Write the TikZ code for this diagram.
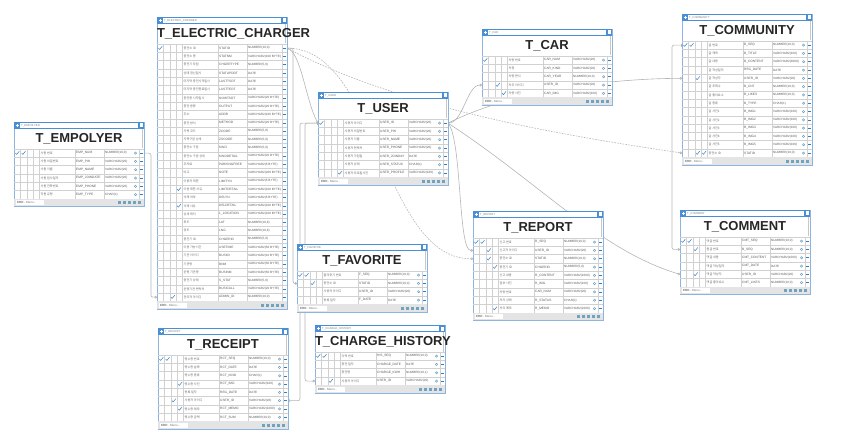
\documentclass[tikz,border=0pt]{standalone}
\usepackage{fontspec}
\setmainfont{Liberation Sans}
\newfontfamily\kr{Noto Sans CJK KR}
\usetikzlibrary{arrows.meta,backgrounds}

\definecolor{frameblue}{HTML}{8DB4DF}
\definecolor{barblue}{HTML}{4A8FD6}
\definecolor{chkblue}{HTML}{2F7FC8}
\definecolor{gearblue}{HTML}{6FA3BE}
\definecolor{linegray}{HTML}{B4B4B4}
\definecolor{footgray}{HTML}{E4E4E4}

\tikzset{
    tabbox/.style={draw=frameblue, fill=white, line width=0.7pt, minimum width=130pt, inner sep=0pt, outer sep=0pt, anchor=north west},
    gridline/.style={draw=black!18, line width=0.3pt},
    titletext/.style={font=\fontsize{13}{15}\selectfont\bfseries, text=black!85, text width=130pt, align=center, inner sep=0pt},
    bartext/.style={font=\fontsize{2.8}{3}\selectfont, text=black!50, anchor=west, inner sep=0pt},
    lgtext/.style={font=\kr\fontsize{3.1}{4}\selectfont, text=black!60, anchor=west, inner sep=0pt},
    phtext/.style={font=\fontsize{3.2}{4}\selectfont, text=black!65, anchor=west, inner sep=0pt},
    tytext/.style={font=\fontsize{3.1}{4}\selectfont, text=black!65, anchor=west, inner sep=0pt},
    foottext/.style={font=\fontsize{3}{4}\selectfont, text=black!55, anchor=west, inner sep=0pt},
    chk/.style={draw=chkblue, line width=0.5pt, line cap=round, line join=round},
    rel/.style={draw=linegray, line width=0.6pt, rounded corners=2pt, {Bar[width=3pt,length=0.6pt]}-{Circle[open,length=2.6pt,width=2.6pt]}},
    reldash/.style={rel, dash pattern=on 1.6pt off 1.2pt}
}

% #1 gear column on/off, #2 name, #3 top left, #4 title, #5 number of rows, #6 rows
\newcommand{\ertable}[6][1]{%
    \begin{scope}[shift={#3}]
        \pgfmathsetmacro\tabh{27+#5*8.3+8}
        \node[tabbox, minimum height=\tabh pt] (#2) at (0,0) {};
        \fill[barblue] (0,0) rectangle (130,7);
        \fill[white] (6,1.3) rectangle (124,5.7);
        \fill[white] (125.5,1.5) rectangle (128.5,5.5);
        \draw[white, line width=0.6pt] (1.5,3.5) -- (4.5,3.5) (3,2) -- (3,5);
        \node[bartext] at (7,3.5) {#4};
        \fill[black!22] (127.8,7) rectangle (129.3,26.5);
        \node[titletext] (#2-title) at (65,17) {#4};
        \foreach \r in {0,...,#5}
            \draw[gridline] (0,{27+\r*8.3}) -- (130,{27+\r*8.3});
        \foreach \cx in {6.5,13,19,25,61,90,125}
            \draw[gridline] (\cx,27) -- (\cx,{27+#5*8.3});
        \foreach \lg/\ph/\ty/\ma/\mb [count=\i] in {#6} {
            \pgfmathsetmacro\yy{27+(\i-0.5)*8.3}
            \node[lgtext] at (26.5,\yy) {\lg};
            \node[phtext] at (62,\yy) {\ph};
            \node[tytext] at (91,\yy) {\ty};
            \draw[chk] (126.3,\yy) -- (128.7,\yy);
            \ifnum#1=1 \fill[gearblue] (121.5,\yy) circle[radius=1.5pt]; \fill[white] (121.5,\yy) circle[radius=0.5pt]; \fi
            \ifnum\ma>0 \pgfmathsetmacro\cx{\ma*6.25-3}
                \draw[chk] (\cx-1.8,\yy) -- (\cx-0.6,\yy+1.3) -- (\cx+1.9,\yy-1.8); \fi
            \ifnum\mb>0 \pgfmathsetmacro\cx{\mb*6.25-3}
                \draw[chk] (\cx-1.8,\yy) -- (\cx-0.6,\yy+1.3) -- (\cx+1.9,\yy-1.8); \fi
            \coordinate (#2-\i-w) at (0,\yy);
            \coordinate (#2-\i-e) at (130,\yy);
        }
        % footer
        \fill[footgray] (0.4,{27+#5*8.3}) rectangle (129.6,\tabh-0.4);
        \fill[white] (2,{27+#5*8.3+1.5}) rectangle (30,\tabh-1.5);
        \node[foottext] at (3,\tabh-4) {\textbf{ERD} - Menu -};
        \foreach \ix in {104,109,114,119,124}
            \fill[gearblue] (\ix,\tabh-5.5) rectangle ++(2.6,3);
    \end{scope}}

\begin{document}
\begin{tikzpicture}[x=1pt, y=-1pt]
    \useasboundingbox (0,0) rectangle (845,443);

    \ertable{emp}{(14,122)}{T\_EMPOLYER}{6}{
        사원 번호/EMP\_NUM/{NUMBER(10,0)}/1/2,
        사원 비밀번호/EMP\_PW/VARCHAR2(20)/0/0,
        사원 이름/EMP\_NAME/VARCHAR2(20)/0/0,
        사원 입사일자/EMP\_JOINDATE/VARCHAR2(20)/0/0,
        사원 전화번호/EMP\_PHONE/VARCHAR2(20)/0/0,
        직원 유형/EMP\_TYPE/CHAR(1)/0/0}

    \ertable[0]{chg}{(157,17)}{T\_ELECTRIC\_CHARGER}{31}{
        충전소 ID/STATID/{NUMBER(10,0)}/1/0,
        충전소 명/STATNM/VARCHAR2(100 BYTE)/0/0,
        충전기 타입/CHGERTYPE/{NUMBER(5,0)}/0/0,
        상태 갱신일시/STATUPDDT/DATE/0/0,
        마지막 충전시작일시/LASTTSDT/DATE/0/0,
        마지막 충전종료일시/LASTTEDT/DATE/0/0,
        충전중 시작일시/NOWTSDT/VARCHAR2(20 BYTE)/0/0,
        충전 용량/OUTPUT/VARCHAR2(20 BYTE)/0/0,
        주소/ADDR/VARCHAR2(100 BYTE)/0/0,
        충전 방식/METHOD/VARCHAR2(20 BYTE)/0/0,
        지역 코드/ZCODE/{NUMBER(5,0)}/0/0,
        지역구분 상세/ZSCODE/{NUMBER(5,0)}/0/0,
        충전소 구분/KIND/{NUMBER(5,0)}/0/0,
        충전소 구분 상세/KINDDETAIL/VARCHAR2(20 BYTE)/0/0,
        주차료/PARKINGFREE/VARCHAR2(5 BYTE)/0/0,
        비고/NOTE/VARCHAR2(200 BYTE)/0/0,
        이용자 제한/LIMITYN/VARCHAR2(5 BYTE)/0/0,
        이용 제한 사유/LIMITDETAIL/VARCHAR2(100 BYTE)/4/0,
        삭제 여부/DELYN/VARCHAR2(5 BYTE)/0/0,
        삭제 사유/DELDETAIL/VARCHAR2(100 BYTE)/4/0,
        상세 위치/L\_LOCATION/VARCHAR2(100 BYTE)/0/0,
        위도/LAT/{NUMBER(10,6)}/0/0,
        경도/LNG/{NUMBER(10,6)}/0/0,
        충전기 ID/CHGERID/{NUMBER(5,0)}/0/0,
        이용 가능시간/USETIME/VARCHAR2(50 BYTE)/0/0,
        기관 아이디/BUSIID/VARCHAR2(10 BYTE)/0/0,
        기관명/BNM/VARCHAR2(50 BYTE)/0/0,
        운영 기관명/BUSINM/VARCHAR2(50 BYTE)/0/0,
        충전기 상태/S\_STAT/{NUMBER(5,0)}/0/0,
        운영기관 연락처/BUSICALL/VARCHAR2(20 BYTE)/0/0,
        관리자 아이디/ADMIN\_ID/{NUMBER(10,0)}/3/0}

    \ertable{user}{(318,92)}{T\_USER}{7}{
        사용자 아이디/USER\_ID/VARCHAR2(20)/1/0,
        사용자 비밀번호/USER\_PW/VARCHAR2(20)/0/0,
        사용자 이름/USER\_NAME/VARCHAR2(20)/0/0,
        사용자 연락처/USER\_PHONE/VARCHAR2(20)/0/0,
        사용자 가입일/USER\_JOINDAY/DATE/0/0,
        사용자 상태/USER\_STATUS/CHAR(1)/0/0,
        사용자 프로필사진/USER\_PROFILE/VARCHAR2(100)/4/0}

    \ertable{car}{(482,29)}{T\_CAR}{5}{
        차량 번호/CAR\_NUM/VARCHAR2(20)/1/0,
        차종/CAR\_KIND/VARCHAR2(20)/0/0,
        차량 연식/CAR\_YEAR/{NUMBER(10,0)}/0/0,
        차주 아이디/USER\_ID/VARCHAR2(20)/3/0,
        차량 사진/CAR\_IMG/VARCHAR2(100)/4/0}

    \ertable{com}{(682,14)}{T\_COMMUNITY}{14}{
        글 번호/B\_SEQ/{NUMBER(10,0)}/1/2,
        글 제목/B\_TITLE/VARCHAR2(100)/0/0,
        글 내용/B\_CONTENT/VARCHAR2(4000)/0/0,
        글 작성일자/REG\_DATE/DATE/0/0,
        글 작성자/USER\_ID/VARCHAR2(20)/3/0,
        글 조회수/B\_CNT/{NUMBER(10,0)}/0/0,
        글 좋아요수/B\_LIKES/{NUMBER(10,0)}/0/0,
        글 종류/B\_TYPE/CHAR(1)/0/0,
        글 사진1/B\_IMG1/VARCHAR2(100)/0/0,
        글 사진2/B\_IMG2/VARCHAR2(100)/0/0,
        글 사진3/B\_IMG3/VARCHAR2(100)/0/0,
        글 사진4/B\_IMG4/VARCHAR2(100)/0/0,
        글 사진5/B\_IMG5/VARCHAR2(100)/0/0,
        충전소 ID/STATID/{NUMBER(10,0)}/3/4}

    \ertable{rep}{(473,211)}{T\_REPORT}{9}{
        신고 번호/R\_SEQ/{NUMBER(10,0)}/1/2,
        신고자 아이디/USER\_ID/VARCHAR2(20)/3/0,
        충전소 ID/STATID/{NUMBER(10,0)}/3/0,
        충전기 ID/CHGERID/{NUMBER(5,0)}/4/0,
        신고 내용/R\_CONTENT/VARCHAR2(1000)/0/0,
        첨부 사진/R\_IMG/VARCHAR2(100)/0/0,
        차량 번호/CAR\_NUM/VARCHAR2(20)/0/0,
        처리 상태/R\_STATUS/CHAR(1)/0/0,
        처리 메모/R\_MEMO/VARCHAR2(1000)/4/0}

    \ertable{cmt}{(680,210)}{T\_COMMENT}{6}{
        댓글 번호/CMT\_SEQ/{NUMBER(10,0)}/1/2,
        원글 번호/B\_SEQ/{NUMBER(10,0)}/3/0,
        댓글 내용/CMT\_CONTENT/VARCHAR2(1000)/0/0,
        댓글 작성일자/CMT\_DATE/DATE/0/0,
        댓글 작성자/USER\_ID/VARCHAR2(20)/3/0,
        댓글 좋아요수/CMT\_LIKES/{NUMBER(10,0)}/0/0}

    \ertable{fav}{(297,244)}{T\_FAVORITE}{4}{
        즐겨찾기 번호/F\_SEQ/{NUMBER(10,0)}/1/2,
        충전소 ID/STATID/{NUMBER(10,0)}/3/0,
        사용자 아이디/USER\_ID/VARCHAR2(20)/0/0,
        등록 일자/F\_DATE/DATE/0/0}

    \ertable{rct}{(158,328)}{T\_RECEIPT}{8}{
        영수증 번호/RCT\_SEQ/{NUMBER(10,0)}/1/2,
        영수증 날짜/RCT\_DATE/DATE/0/0,
        영수증 종류/RCT\_KIND/CHAR(1)/0/0,
        영수증 사진/RCT\_IMG/VARCHAR2(100)/4/0,
        등록 일자/REG\_DATE/DATE/0/0,
        사용자 아이디/USER\_ID/VARCHAR2(20)/3/0,
        영수증 메모/RCT\_MEMO/VARCHAR2(1000)/4/0,
        영수증 금액/RCT\_SUM/{NUMBER(10,0)}/0/0}

    \ertable{his}{(315,325)}{T\_CHARGE\_HISTORY}{4}{
        이력 번호/HIS\_SEQ/{NUMBER(10,0)}/1/2,
        충전 일자/CHARGE\_DATE/DATE/0/0,
        충전량/CHARGE\_KWH/{NUMBER(10,1)}/0/0,
        사용자 아이디/USER\_ID/VARCHAR2(20)/3/0}

    % relations
    \begin{pgfonlayer}{background}
        \draw[rel] (emp-1-e) -- ++(7,0) |- (chg-31-w);
        \draw[rel] (chg-1-e) .. controls +(14,4) and +(-12,-22) .. (user-1-w);
        \draw[rel] (chg-1-e) -- ++(6,0) |- (fav-2-w);
        \draw[reldash] (chg-1-e) .. controls +(90,0) and +(-90,0) .. (rep-3-w);
        \draw[reldash] (chg-1-e) .. controls +(113,60) and +(-122,-18) .. (com-14-w);
        \draw[rel] (user-1-w) -- ++(-18,0) |- (rct-6-e);
        \draw[rel] (user-1-w) -- ++(-13,0) |- (his-4-w);
        \draw[rel] (user-1-e) .. controls +(15,0) and +(-15,0) .. (car-4-w);
        \draw[rel] (user-1-e) .. controls +(14,17) and +(-15,0) .. (rep-2-w);
        \draw[rel] (user-1-e) .. controls +(80,-40) and +(-40,0) .. (com-5-w);
        \draw[rel] (user-1-e) .. controls +(92,60) and +(-80,-24) .. (cmt-5-w);
        \draw[rel] (com-1-w) -- ++(-10,0) |- (cmt-2-w);
    \end{pgfonlayer}
\end{tikzpicture}
\end{document}
